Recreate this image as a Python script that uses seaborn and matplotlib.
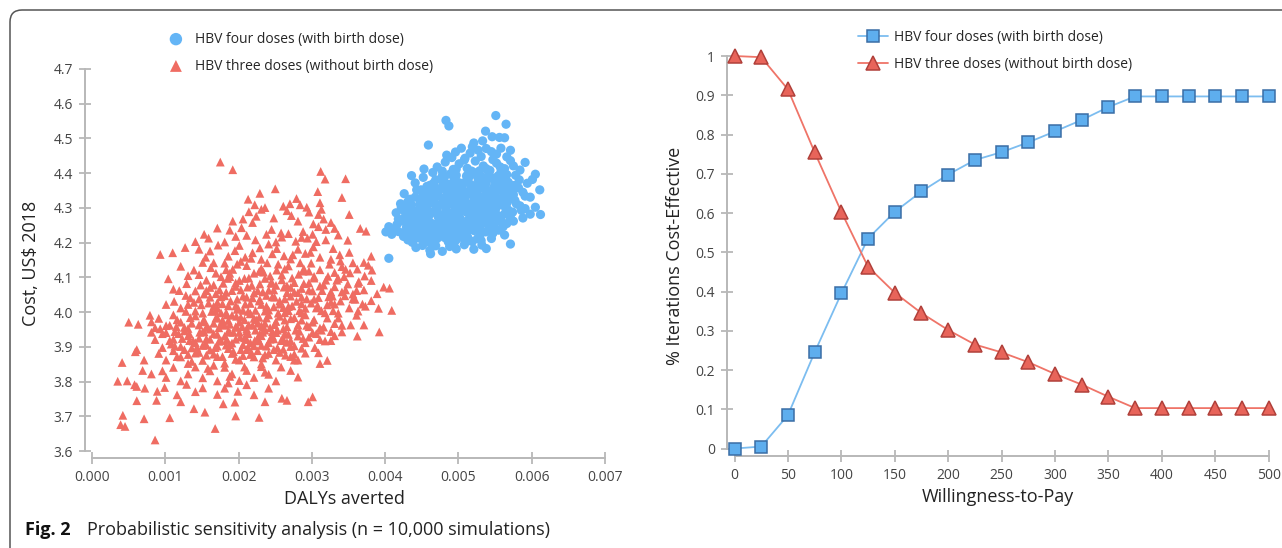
import matplotlib
matplotlib.use("Agg")
import matplotlib.pyplot as plt
import pandas as pd
import seaborn as sns
from matplotlib.patches import FancyBboxPatch
from matplotlib.ticker import FormatStrFormatter, FuncFormatter

# --- scatter clouds (DALYs averted, cost) ---
four_doses = [
    (0.00483, 4.552), (0.00487, 4.536), (0.00551, 4.566), (0.00565, 4.541), (0.00537, 4.521),
    (0.00546, 4.505), (0.00556, 4.503), (0.00563, 4.502), (0.00459, 4.481), (0.00521, 4.487),
    (0.00533, 4.493),
    (0.00496, 4.461), (0.00504, 4.472), (0.00516, 4.458), (0.00527, 4.466), (0.00538, 4.471),
    (0.00552, 4.455), (0.00571, 4.466), (0.00566, 4.447), (0.00491, 4.445), (0.00509, 4.443),
    (0.00531, 4.448), (0.00545, 4.462), (0.00484, 4.452), (0.00519, 4.476), (0.00558, 4.472),
    (0.00471, 4.418), (0.00482, 4.432), (0.00493, 4.411), (0.00501, 4.427), (0.00512, 4.414),
    (0.00523, 4.435), (0.00534, 4.421), (0.00541, 4.404), (0.00552, 4.429), (0.00563, 4.413),
    (0.00575, 4.421), (0.00591, 4.431), (0.00605, 4.397), (0.00601, 4.382), (0.00465, 4.402),
    (0.00478, 4.406), (0.00508, 4.438), (0.00529, 4.407), (0.00547, 4.439), (0.00571, 4.436),
    (0.00584, 4.409), (0.00453, 4.412),
    (0.00441, 4.372), (0.00452, 4.388), (0.00461, 4.365), (0.00469, 4.381), (0.00478, 4.392),
    (0.00486, 4.368), (0.00494, 4.385), (0.00503, 4.371), (0.00511, 4.392), (0.00519, 4.364),
    (0.00527, 4.381), (0.00536, 4.368), (0.00544, 4.389), (0.00553, 4.372), (0.00561, 4.386),
    (0.00572, 4.365), (0.00583, 4.381), (0.00594, 4.371), (0.00611, 4.352), (0.00436, 4.393),
    (0.00457, 4.362), (0.00489, 4.398), (0.00523, 4.396), (0.00549, 4.362), (0.00578, 4.394),
    (0.00426, 4.341), (0.00434, 4.325), (0.00443, 4.352), (0.00451, 4.332), (0.00459, 4.346),
    (0.00467, 4.328), (0.00476, 4.355), (0.00484, 4.338), (0.00492, 4.322), (0.00501, 4.349),
    (0.00509, 4.331), (0.00517, 4.355), (0.00526, 4.338), (0.00534, 4.324), (0.00542, 4.347),
    (0.00551, 4.332), (0.00559, 4.352), (0.00568, 4.336), (0.00577, 4.322), (0.00588, 4.345),
    (0.00598, 4.331), (0.00421, 4.312), (0.00463, 4.359), (0.00496, 4.358), (0.00529, 4.357),
    (0.00555, 4.321), (0.00582, 4.358),
    (0.00415, 4.286), (0.00422, 4.302), (0.00431, 4.318), (0.00439, 4.292), (0.00447, 4.309),
    (0.00455, 4.284), (0.00463, 4.315), (0.00471, 4.297), (0.00479, 4.281), (0.00487, 4.311),
    (0.00495, 4.294), (0.00503, 4.318), (0.00511, 4.288), (0.00519, 4.305), (0.00527, 4.292),
    (0.00535, 4.316), (0.00543, 4.299), (0.00551, 4.283), (0.00559, 4.309), (0.00568, 4.294),
    (0.00579, 4.312), (0.00591, 4.298), (0.00605, 4.302), (0.00612, 4.281), (0.00449, 4.293),
    (0.00483, 4.297), (0.00507, 4.302), (0.00531, 4.286), (0.00563, 4.283),
    (0.00405, 4.246), (0.00412, 4.236), (0.00421, 4.262), (0.00429, 4.245), (0.00437, 4.271),
    (0.00445, 4.252), (0.00453, 4.276), (0.00461, 4.258), (0.00469, 4.241), (0.00477, 4.268),
    (0.00485, 4.251), (0.00493, 4.274), (0.00501, 4.256), (0.00509, 4.243), (0.00517, 4.269),
    (0.00525, 4.252), (0.00533, 4.277), (0.00541, 4.261), (0.00549, 4.245), (0.00558, 4.268),
    (0.00566, 4.255), (0.00575, 4.262), (0.00588, 4.271), (0.00598, 4.282), (0.00458, 4.244),
    (0.00473, 4.278), (0.00497, 4.243), (0.00521, 4.279), (0.00551, 4.274),
    (0.00401, 4.231), (0.00409, 4.224), (0.00425, 4.218), (0.00433, 4.232), (0.00441, 4.212),
    (0.00449, 4.227), (0.00457, 4.205), (0.00465, 4.221), (0.00473, 4.238), (0.00481, 4.215),
    (0.00489, 4.232), (0.00497, 4.208), (0.00505, 4.226), (0.00513, 4.214), (0.00521, 4.235),
    (0.00529, 4.219), (0.00537, 4.231), (0.00545, 4.212), (0.00555, 4.236), (0.00563, 4.222),
    (0.00437, 4.201), (0.00452, 4.239), (0.00486, 4.203), (0.00519, 4.203), (0.00542, 4.239),
    (0.00405, 4.155), (0.00571, 4.196), (0.00442, 4.186), (0.00451, 4.192), (0.00461, 4.178),
    (0.00469, 4.191), (0.00478, 4.175), (0.00488, 4.189), (0.00497, 4.182), (0.00508, 4.194),
    (0.00521, 4.181), (0.00532, 4.193), (0.00538, 4.183), (0.00462, 4.168),
    (0.00436, 4.262), (0.00444, 4.281), (0.00448, 4.318), (0.00452, 4.266), (0.00456, 4.301),
    (0.00459, 4.232), (0.00464, 4.287), (0.00467, 4.339), (0.00471, 4.254), (0.00474, 4.309),
    (0.00476, 4.228), (0.00479, 4.326), (0.00481, 4.262), (0.00484, 4.354), (0.00486, 4.284),
    (0.00489, 4.241), (0.00491, 4.312), (0.00493, 4.372), (0.00495, 4.262), (0.00498, 4.336),
    (0.00499, 4.223), (0.00502, 4.288), (0.00505, 4.361), (0.00507, 4.252), (0.00509, 4.315),
    (0.00511, 4.378), (0.00513, 4.234), (0.00515, 4.294), (0.00517, 4.341), (0.00519, 4.262),
    (0.00521, 4.402), (0.00523, 4.318), (0.00525, 4.276), (0.00527, 4.365), (0.00529, 4.241),
    (0.00531, 4.332), (0.00533, 4.388), (0.00535, 4.296), (0.00537, 4.256), (0.00539, 4.352),
    (0.00541, 4.312), (0.00543, 4.408), (0.00545, 4.274), (0.00547, 4.338), (0.00549, 4.381),
    (0.00551, 4.298), (0.00553, 4.351), (0.00555, 4.262), (0.00557, 4.418), (0.00559, 4.328),
    (0.00561, 4.372), (0.00563, 4.305), (0.00566, 4.396), (0.00569, 4.348), (0.00572, 4.284),
    (0.00575, 4.338), (0.00479, 4.371), (0.00469, 4.358), (0.00461, 4.318), (0.00453, 4.341),
    (0.00446, 4.232), (0.00439, 4.246), (0.00432, 4.281), (0.00428, 4.298), (0.00418, 4.268),
    (0.00424, 4.228), (0.00457, 4.262), (0.00472, 4.276), (0.00488, 4.262), (0.00503, 4.238),
    (0.00518, 4.282), (0.00534, 4.262), (0.00548, 4.315), (0.00562, 4.342), (0.00577, 4.365),
    (0.00491, 4.339), (0.00507, 4.345), (0.00523, 4.356), (0.00538, 4.372), (0.00554, 4.392),
    (0.00483, 4.223), (0.00471, 4.212), (0.00494, 4.198), (0.00511, 4.204), (0.00526, 4.212),
    (0.00462, 4.199), (0.00447, 4.213),
    (0.00431, 4.208), (0.00443, 4.216), (0.00455, 4.211), (0.00468, 4.205), (0.00492, 4.214),
    (0.00508, 4.209), (0.00531, 4.206),
    (0.00418, 4.232), (0.00438, 4.226), (0.00454, 4.234), (0.00467, 4.229), (0.00482, 4.236),
    (0.00496, 4.225), (0.00511, 4.231), (0.00526, 4.238), (0.00547, 4.227),
    (0.00416, 4.252), (0.00432, 4.256), (0.00449, 4.248), (0.00466, 4.254), (0.00479, 4.247),
    (0.00492, 4.253), (0.00506, 4.258), (0.00514, 4.249), (0.00531, 4.255), (0.00546, 4.251),
    (0.00561, 4.246),
    (0.00427, 4.272), (0.00443, 4.268), (0.00459, 4.274), (0.00476, 4.266), (0.00489, 4.276),
    (0.00502, 4.271), (0.00513, 4.265), (0.00529, 4.273), (0.00543, 4.268), (0.00556, 4.276),
    (0.00571, 4.269),
    (0.00426, 4.291), (0.00441, 4.286), (0.00458, 4.294), (0.00468, 4.288), (0.00491, 4.285),
    (0.00499, 4.293), (0.00516, 4.289), (0.00523, 4.296), (0.00539, 4.287), (0.00547, 4.292),
    (0.00574, 4.288), (0.00586, 4.293),
    (0.00436, 4.309), (0.00452, 4.314), (0.00469, 4.306), (0.00481, 4.313), (0.00497, 4.308),
    (0.00513, 4.312), (0.00528, 4.306), (0.00539, 4.314), (0.00553, 4.308), (0.00566, 4.313),
    (0.00584, 4.306),
    (0.00441, 4.331), (0.00462, 4.326), (0.00473, 4.334), (0.00488, 4.328), (0.00503, 4.333),
    (0.00521, 4.327), (0.00538, 4.335), (0.00547, 4.326), (0.00563, 4.331), (0.00571, 4.326),
    (0.00591, 4.334),
    (0.00449, 4.352), (0.00471, 4.346), (0.00489, 4.353), (0.00506, 4.348), (0.00513, 4.346),
    (0.00536, 4.354), (0.00546, 4.347), (0.00566, 4.355), (0.00574, 4.348),
    (0.00466, 4.371), (0.00483, 4.366), (0.00499, 4.374), (0.00516, 4.368), (0.00531, 4.373),
    (0.00557, 4.366), (0.00568, 4.374),
    (0.00481, 4.389), (0.00497, 4.394), (0.00514, 4.387), (0.00529, 4.392), (0.00541, 4.386),
    (0.00558, 4.393),
    (0.00497, 4.412), (0.00518, 4.406), (0.00538, 4.413), (0.00558, 4.404),
]

three_doses = [
    (0.00175, 4.432), (0.00192, 4.410), (0.00312, 4.405),
    (0.00318, 4.383), (0.00346, 4.384), (0.00250, 4.355),
    (0.00229, 4.342), (0.00213, 4.325), (0.00222, 4.309), (0.00236, 4.301), (0.00270, 4.312),
    (0.00279, 4.327), (0.00284, 4.309), (0.00293, 4.302), (0.00308, 4.347), (0.00311, 4.315),
    (0.00313, 4.296), (0.00341, 4.330), (0.00261, 4.305),
    (0.00214, 4.289), (0.00231, 4.296), (0.00224, 4.276), (0.00206, 4.268), (0.00266, 4.292),
    (0.00272, 4.278), (0.00296, 4.288), (0.00309, 4.281), (0.00316, 4.268), (0.00326, 4.258),
    (0.00351, 4.281), (0.00219, 4.258), (0.00192, 4.262), (0.00248, 4.271), (0.00281, 4.262),
    (0.00302, 4.254),
    (0.00171, 4.242), (0.00188, 4.236), (0.00204, 4.243), (0.00211, 4.221), (0.00238, 4.224),
    (0.00259, 4.216), (0.00278, 4.204), (0.00294, 4.213), (0.00309, 4.246), (0.00319, 4.238),
    (0.00331, 4.241), (0.00336, 4.222), (0.00366, 4.241), (0.00374, 4.233), (0.00159, 4.213),
    (0.00181, 4.202), (0.00153, 4.224), (0.00141, 4.203), (0.00251, 4.202), (0.00268, 4.226),
    (0.00301, 4.224), (0.00306, 4.203), (0.00223, 4.208), (0.00196, 4.218), (0.00245, 4.238),
    (0.00288, 4.232), (0.00349, 4.207),
    (0.00127, 4.186), (0.00093, 4.166), (0.00110, 4.171), (0.00146, 4.181), (0.00161, 4.176),
    (0.00172, 4.193), (0.00186, 4.161), (0.00201, 4.192), (0.00219, 4.171), (0.00231, 4.152),
    (0.00252, 4.183), (0.00262, 4.162), (0.00281, 4.181), (0.00291, 4.169), (0.00311, 4.158),
    (0.00329, 4.183), (0.00326, 4.152), (0.00351, 4.172), (0.00371, 4.143), (0.00381, 4.161),
    (0.00209, 4.158), (0.00241, 4.196), (0.00271, 4.153), (0.00302, 4.188), (0.00338, 4.165),
    (0.00195, 4.177), (0.00155, 4.158),
    (0.00121, 4.132), (0.00139, 4.121), (0.00151, 4.143), (0.00169, 4.112), (0.00181, 4.141),
    (0.00192, 4.123), (0.00211, 4.134), (0.00221, 4.112), (0.00239, 4.142), (0.00252, 4.121),
    (0.00268, 4.133), (0.00282, 4.109), (0.00299, 4.141), (0.00311, 4.122), (0.00322, 4.103),
    (0.00341, 4.131), (0.00352, 4.113), (0.00362, 4.124), (0.00372, 4.104), (0.00382, 4.121),
    (0.00377, 4.135), (0.00203, 4.146), (0.00131, 4.105), (0.00162, 4.128), (0.00231, 4.126),
    (0.00259, 4.107), (0.00289, 4.125), (0.00331, 4.114), (0.00176, 4.102),
    (0.00104, 4.096), (0.00111, 4.066), (0.00129, 4.082), (0.00141, 4.061), (0.00156, 4.092),
    (0.00161, 4.071), (0.00179, 4.083), (0.00191, 4.062), (0.00201, 4.091), (0.00212, 4.072),
    (0.00229, 4.081), (0.00241, 4.063), (0.00259, 4.093), (0.00271, 4.071), (0.00289, 4.082),
    (0.00301, 4.061), (0.00319, 4.092), (0.00331, 4.073), (0.00349, 4.081), (0.00361, 4.062),
    (0.00381, 4.091), (0.00398, 4.072), (0.00406, 4.069), (0.00389, 4.053), (0.00371, 4.064),
    (0.00169, 4.053), (0.00221, 4.055), (0.00251, 4.077), (0.00281, 4.056), (0.00311, 4.075),
    (0.00341, 4.058), (0.00148, 4.078), (0.00185, 4.097), (0.00236, 4.097),
    (0.00101, 4.022), (0.00112, 4.031), (0.00121, 4.012), (0.00134, 4.041), (0.00149, 4.021),
    (0.00161, 4.043), (0.00171, 4.011), (0.00189, 4.032), (0.00199, 4.012), (0.00219, 4.041),
    (0.00231, 4.022), (0.00249, 4.043), (0.00261, 4.013), (0.00279, 4.031), (0.00291, 4.011),
    (0.00309, 4.042), (0.00321, 4.021), (0.00339, 4.032), (0.00351, 4.012), (0.00369, 4.023),
    (0.00381, 4.033), (0.00409, 4.005), (0.00391, 4.011), (0.00345, 4.047), (0.00141, 4.003),
    (0.00181, 4.047), (0.00209, 4.023), (0.00241, 4.006), (0.00271, 4.046), (0.00299, 4.026),
    (0.00329, 4.004), (0.00359, 4.037), (0.00159, 4.026), (0.00223, 4.005),
    (0.00050, 3.971), (0.00063, 3.965), (0.00079, 3.991), (0.00081, 3.972), (0.00091, 3.982),
    (0.00101, 3.961), (0.00111, 3.992), (0.00121, 3.971), (0.00131, 3.953), (0.00141, 3.989),
    (0.00151, 3.972), (0.00161, 3.951), (0.00171, 3.983), (0.00181, 3.962), (0.00191, 3.991),
    (0.00201, 3.971), (0.00211, 3.952), (0.00221, 3.982), (0.00231, 3.961), (0.00241, 3.992),
    (0.00251, 3.973), (0.00261, 3.952), (0.00271, 3.981), (0.00281, 3.963), (0.00291, 3.992),
    (0.00301, 3.971), (0.00311, 3.954), (0.00321, 3.983), (0.00341, 3.962), (0.00361, 3.991),
    (0.00371, 3.963), (0.00392, 3.943), (0.00086, 3.955), (0.00176, 3.998), (0.00196, 3.958),
    (0.00226, 3.968), (0.00256, 3.988), (0.00286, 3.977), (0.00331, 3.967), (0.00216, 3.995),
    (0.00166, 3.968),
    (0.00061, 3.892), (0.00081, 3.942), (0.00086, 3.921), (0.00101, 3.941), (0.00111, 3.922),
    (0.00121, 3.901), (0.00131, 3.932), (0.00141, 3.912), (0.00151, 3.943), (0.00161, 3.922),
    (0.00171, 3.902), (0.00181, 3.931), (0.00191, 3.911), (0.00201, 3.942), (0.00211, 3.921),
    (0.00221, 3.903), (0.00231, 3.932), (0.00241, 3.912), (0.00251, 3.941), (0.00261, 3.922),
    (0.00271, 3.901), (0.00281, 3.931), (0.00291, 3.912), (0.00301, 3.941), (0.00311, 3.921),
    (0.00331, 3.932), (0.00341, 3.943), (0.00362, 3.931), (0.00146, 3.925), (0.00186, 3.946),
    (0.00206, 3.906), (0.00236, 3.948), (0.00266, 3.913), (0.00296, 3.928), (0.00176, 3.918),
    (0.00126, 3.946), (0.00156, 3.905),
    (0.00041, 3.855), (0.00059, 3.886), (0.00071, 3.862), (0.00091, 3.881), (0.00101, 3.862),
    (0.00111, 3.889), (0.00121, 3.871), (0.00131, 3.852), (0.00141, 3.882), (0.00151, 3.861),
    (0.00161, 3.891), (0.00171, 3.872), (0.00181, 3.853), (0.00191, 3.881), (0.00201, 3.862),
    (0.00211, 3.892), (0.00221, 3.871), (0.00231, 3.851), (0.00241, 3.881), (0.00251, 3.862),
    (0.00261, 3.893), (0.00271, 3.872), (0.00281, 3.862), (0.00291, 3.882), (0.00311, 3.852),
    (0.00321, 3.861), (0.00309, 3.883), (0.00186, 3.895), (0.00226, 3.889), (0.00156, 3.876),
    (0.00206, 3.875),
    (0.00035, 3.801), (0.00048, 3.802), (0.00058, 3.791), (0.00069, 3.832), (0.00081, 3.822),
    (0.00096, 3.831), (0.00101, 3.812), (0.00111, 3.841), (0.00121, 3.802), (0.00131, 3.822),
    (0.00141, 3.842), (0.00151, 3.811), (0.00161, 3.831), (0.00171, 3.802), (0.00181, 3.841),
    (0.00191, 3.822), (0.00201, 3.803), (0.00211, 3.832), (0.00221, 3.812), (0.00231, 3.843),
    (0.00241, 3.821), (0.00251, 3.802), (0.00271, 3.832), (0.00281, 3.813), (0.00166, 3.847),
    (0.00236, 3.827),
    (0.00061, 3.786), (0.00072, 3.781), (0.00089, 3.772), (0.00099, 3.783), (0.00116, 3.762),
    (0.00129, 3.792), (0.00141, 3.771), (0.00151, 3.782), (0.00171, 3.763), (0.00181, 3.781),
    (0.00199, 3.772), (0.00211, 3.791), (0.00221, 3.762), (0.00241, 3.781), (0.00259, 3.752),
    (0.00301, 3.756), (0.00186, 3.796),
    (0.00042, 3.703), (0.00061, 3.745), (0.00088, 3.746), (0.00121, 3.742), (0.00139, 3.722),
    (0.00154, 3.712), (0.00179, 3.736), (0.00195, 3.741), (0.00236, 3.742), (0.00295, 3.742),
    (0.00266, 3.746),
    (0.00039, 3.676), (0.00045, 3.671), (0.00071, 3.693), (0.00106, 3.696), (0.00168, 3.665),
    (0.00228, 3.697), (0.00086, 3.632), (0.00196, 3.701),
    (0.00166, 3.938), (0.00173, 3.955), (0.00178, 3.977), (0.00184, 3.921), (0.00188, 3.965),
    (0.00193, 3.942), (0.00197, 3.988), (0.00202, 3.928), (0.00205, 3.958), (0.00208, 3.978),
    (0.00213, 3.938), (0.00216, 3.912), (0.00219, 3.962), (0.00223, 3.948), (0.00226, 3.926),
    (0.00228, 3.985), (0.00233, 3.942), (0.00236, 3.968), (0.00238, 3.902), (0.00243, 3.955),
    (0.00246, 3.932), (0.00248, 4.015), (0.00253, 3.948), (0.00256, 4.032), (0.00258, 3.918),
    (0.00263, 3.998), (0.00266, 4.056), (0.00268, 3.936), (0.00273, 4.018), (0.00276, 4.085),
    (0.00278, 3.948), (0.00283, 4.004), (0.00286, 4.068), (0.00288, 4.118), (0.00293, 4.038),
    (0.00296, 3.958), (0.00303, 4.098), (0.00306, 4.012), (0.00314, 4.062), (0.00318, 3.998),
    (0.00324, 4.138), (0.00328, 4.046), (0.00334, 4.092), (0.00155, 3.908), (0.00158, 3.956),
    (0.00163, 4.002), (0.00147, 3.942), (0.00143, 3.898), (0.00136, 3.968), (0.00133, 3.918),
    (0.00126, 3.892), (0.00118, 3.938), (0.00115, 3.958), (0.00108, 3.908), (0.00153, 4.052),
    (0.00174, 4.064), (0.00186, 4.018), (0.00196, 4.074), (0.00206, 4.046), (0.00214, 4.098),
    (0.00226, 4.062), (0.00234, 4.115), (0.00244, 4.084), (0.00254, 4.138), (0.00262, 4.072),
    (0.00274, 4.165), (0.00284, 4.142), (0.00178, 3.872), (0.00196, 3.864), (0.00216, 3.878),
    (0.00233, 3.868), (0.00248, 3.892), (0.00264, 3.876), (0.00183, 3.905), (0.00203, 3.892),
    (0.00222, 3.918), (0.00243, 3.922), (0.00198, 4.008), (0.00213, 4.002), (0.00228, 4.032),
    (0.00238, 4.048), (0.00171, 4.028), (0.00184, 3.992), (0.00139, 4.028), (0.00128, 4.048),
    (0.00119, 4.062), (0.00146, 4.108), (0.00166, 4.142), (0.00188, 4.112), (0.00217, 4.155),
    (0.00198, 4.138), (0.00229, 4.185), (0.00246, 4.168), (0.00258, 4.228), (0.00286, 4.215),
    (0.00298, 4.172), (0.00319, 4.208), (0.00339, 4.147), (0.00356, 4.142), (0.00344, 4.102),
    (0.00364, 4.088), (0.00356, 4.052), (0.00326, 4.028), (0.00313, 3.948), (0.00304, 3.898),
    (0.00326, 3.918), (0.00276, 3.862), (0.00258, 3.842), (0.00208, 3.842), (0.00188, 3.815),
    (0.00158, 3.838), (0.00136, 3.858), (0.00116, 3.872), (0.00096, 3.898), (0.00093, 3.952),
    (0.00131, 3.878), (0.00146, 3.884), (0.00166, 3.879), (0.00193, 3.886), (0.00218, 3.881),
    (0.00236, 3.877), (0.00256, 3.884), (0.00276, 3.879),
    (0.00113, 3.902), (0.00136, 3.897), (0.00151, 3.904), (0.00168, 3.898), (0.00188, 3.906),
    (0.00213, 3.899), (0.00231, 3.904), (0.00253, 3.897), (0.00276, 3.903), (0.00286, 3.896),
    (0.00106, 3.918), (0.00123, 3.924), (0.00138, 3.917), (0.00156, 3.923), (0.00173, 3.916),
    (0.00196, 3.922), (0.00208, 3.926), (0.00228, 3.917), (0.00248, 3.923), (0.00271, 3.918),
    (0.00288, 3.924), (0.00318, 3.917),
    (0.00096, 3.938), (0.00113, 3.944), (0.00133, 3.937), (0.00153, 3.943), (0.00171, 3.936),
    (0.00188, 3.942), (0.00211, 3.946), (0.00229, 3.937), (0.00246, 3.944), (0.00263, 3.938),
    (0.00283, 3.945), (0.00306, 3.938), (0.00326, 3.944),
    (0.00106, 3.962), (0.00126, 3.956), (0.00146, 3.963), (0.00156, 3.957), (0.00176, 3.964),
    (0.00198, 3.956), (0.00214, 3.963), (0.00234, 3.957), (0.00249, 3.964), (0.00266, 3.958),
    (0.00293, 3.962), (0.00316, 3.957), (0.00353, 3.963),
    (0.00116, 3.978), (0.00134, 3.984), (0.00153, 3.977), (0.00169, 3.983), (0.00186, 3.976),
    (0.00203, 3.985), (0.00224, 3.978), (0.00238, 3.983), (0.00263, 3.977), (0.00276, 3.984),
    (0.00303, 3.978), (0.00336, 3.983),
    (0.00128, 4.002), (0.00151, 3.997), (0.00168, 4.004), (0.00183, 3.998), (0.00206, 4.005),
    (0.00216, 3.996), (0.00236, 4.003), (0.00254, 3.997), (0.00268, 4.004), (0.00286, 3.998),
    (0.00313, 4.004), (0.00336, 3.997), (0.00363, 4.003),
    (0.00131, 4.022), (0.00166, 4.017), (0.00178, 4.024), (0.00196, 4.018), (0.00216, 4.025),
    (0.00238, 4.017), (0.00256, 4.023), (0.00268, 4.016), (0.00286, 4.024), (0.00308, 4.018),
    (0.00331, 4.023), (0.00373, 4.017),
    (0.00146, 4.038), (0.00176, 4.044), (0.00198, 4.037), (0.00211, 4.043), (0.00229, 4.036),
    (0.00246, 4.044), (0.00263, 4.038), (0.00286, 4.043), (0.00303, 4.037), (0.00323, 4.044),
    (0.00356, 4.038),
    (0.00156, 4.062), (0.00183, 4.057), (0.00203, 4.064), (0.00233, 4.058), (0.00248, 4.064),
    (0.00276, 4.057), (0.00296, 4.063), (0.00326, 4.058), (0.00346, 4.064),
    (0.00166, 4.078), (0.00196, 4.084), (0.00218, 4.077), (0.00246, 4.083), (0.00266, 4.076),
    (0.00296, 4.084), (0.00316, 4.078), (0.00363, 4.083),
    (0.00188, 4.102), (0.00208, 4.097), (0.00243, 4.104), (0.00273, 4.098), (0.00303, 4.103),
    (0.00336, 4.097),
    (0.00183, 4.122), (0.00228, 4.117), (0.00263, 4.124), (0.00296, 4.118), (0.00346, 4.123),
]

# --- acceptability curves ---
wtp = [0, 25, 50, 75, 100, 125, 150, 175, 200, 225, 250, 275, 300, 325, 350, 375, 400, 425, 450, 475, 500]
ce_four = [0.0, 0.005, 0.085, 0.245, 0.395, 0.535, 0.603, 0.655, 0.698, 0.735, 0.755, 0.780, 0.808,
           0.837, 0.870, 0.897, 0.897, 0.897, 0.897, 0.897, 0.897]
ce_three = [1.0, 0.997, 0.915, 0.755, 0.603, 0.463, 0.397, 0.345, 0.302, 0.265, 0.245, 0.220, 0.190,
            0.163, 0.132, 0.103, 0.103, 0.103, 0.103, 0.103, 0.103]

label_four = "HBV four doses (with birth dose)"
label_three = "HBV three doses (without birth dose)"

BLUE = "#64b5f6"
RED = "#ef6c62"
AXIS_GREY = "#b8b8b8"
TEXT_GREY = "#444444"

sns.set_style("white")
plt.rcParams["font.family"] = ["Open Sans", "DejaVu Sans"]

fig = plt.figure(figsize=(12.82, 5.48), dpi=100)
ax1 = fig.add_axes([0.0661, 0.1642, 0.4058, 0.7099])
ax2 = fig.add_axes([0.5671, 0.1679, 0.4225, 0.7299])

# left: scatter of simulations
df_four = pd.DataFrame(four_doses, columns=["dalys", "cost"])
df_three = pd.DataFrame(three_doses, columns=["dalys", "cost"])
sns.scatterplot(data=df_four, x="dalys", y="cost", ax=ax1, marker="o", s=44,
                color=BLUE, edgecolor="none", linewidth=0, label=label_four, zorder=3)
sns.scatterplot(data=df_three, x="dalys", y="cost", ax=ax1, marker="^", s=40,
                color=RED, edgecolor="none", linewidth=0, label=label_three, zorder=2)
ax1.set_xlim(-0.0001, 0.007)
ax1.set_ylim(3.58, 4.70)
ax1.set_xticks([0.000, 0.001, 0.002, 0.003, 0.004, 0.005, 0.006, 0.007])
ax1.set_yticks([3.6, 3.7, 3.8, 3.9, 4.0, 4.1, 4.2, 4.3, 4.4, 4.5, 4.6, 4.7])
ax1.xaxis.set_major_formatter(FormatStrFormatter("%.3f"))
ax1.yaxis.set_major_formatter(FormatStrFormatter("%.1f"))
ax1.spines["left"].set_bounds(3.6, 4.7)
ax1.spines["bottom"].set_bounds(0.0, 0.007)
ax1.set_xlabel("DALYs averted", fontsize=13, color="#222222", labelpad=4)
ax1.set_ylabel("Cost, US$ 2018", fontsize=13, color="#222222", labelpad=10)
ax1.legend(loc="upper left", bbox_to_anchor=(0.1318, 0.942), bbox_transform=fig.transFigure,
           frameon=False, fontsize=10, borderpad=0, borderaxespad=0, handlelength=1.0,
           handletextpad=0.9, labelspacing=0.85, markerscale=1.35)

# right: cost-effectiveness acceptability curves
sns.lineplot(x=wtp, y=ce_four, ax=ax2, color="#7cbdf0", lw=1.3, marker="s", markersize=9,
             markerfacecolor="#5eaeee", markeredgecolor="#3a6ea5", markeredgewidth=1.1,
             label=label_four, clip_on=False, zorder=3)
sns.lineplot(x=wtp, y=ce_three, ax=ax2, color="#ef7468", lw=1.3, marker="^", markersize=10,
             markerfacecolor="#e8645a", markeredgecolor="#b0403a", markeredgewidth=1.1,
             label=label_three, clip_on=False, zorder=3)
ax2.set_xlim(-7, 500)
ax2.set_ylim(-0.019, 1.0)
ax2.set_xticks(wtp[::2])
ax2.set_yticks([0, 0.1, 0.2, 0.3, 0.4, 0.5, 0.6, 0.7, 0.8, 0.9, 1.0])
ax2.yaxis.set_major_formatter(FuncFormatter(lambda v, p: f"{v:g}"))
ax2.spines["left"].set_bounds(0, 1)
ax2.spines["bottom"].set_bounds(0, 500)
ax2.set_xlabel("Willingness-to-Pay", fontsize=13, color="#222222", labelpad=4)
ax2.set_ylabel("% Iterations Cost-Effective", fontsize=13, color="#222222", labelpad=8)
ax2.legend(loc="upper left", bbox_to_anchor=(0.669, 0.945), bbox_transform=fig.transFigure,
           frameon=False, fontsize=10, borderpad=0, borderaxespad=0, handlelength=2.2,
           handletextpad=0.45, labelspacing=0.85)

for ax in (ax1, ax2):
    for side in ("top", "right"):
        ax.spines[side].set_visible(False)
    for side in ("left", "bottom"):
        ax.spines[side].set_color(AXIS_GREY)
        ax.spines[side].set_linewidth(1.4)
    ax.tick_params(bottom=True, left=True, direction="inout", length=9, width=1.3,
                   color=AXIS_GREY, labelsize=10, labelcolor=TEXT_GREY, pad=4)

# frame with rounded corner and caption
fig.patches.append(FancyBboxPatch((10, -60), 1400, 598, boxstyle="round,pad=0,rounding_size=12",
                                  transform=None, fill=False, ec="#555555", lw=1.1))
fig.text(25 / 1282, 1 - 530 / 548, "Fig. 2", fontsize=13, weight="bold", color="#111111", va="center")
fig.text(87 / 1282, 1 - 530 / 548, "Probabilistic sensitivity analysis (n = 10,000 simulations)",
         fontsize=13, color="#222222", va="center")

fig.savefig("out.png", dpi=100)
